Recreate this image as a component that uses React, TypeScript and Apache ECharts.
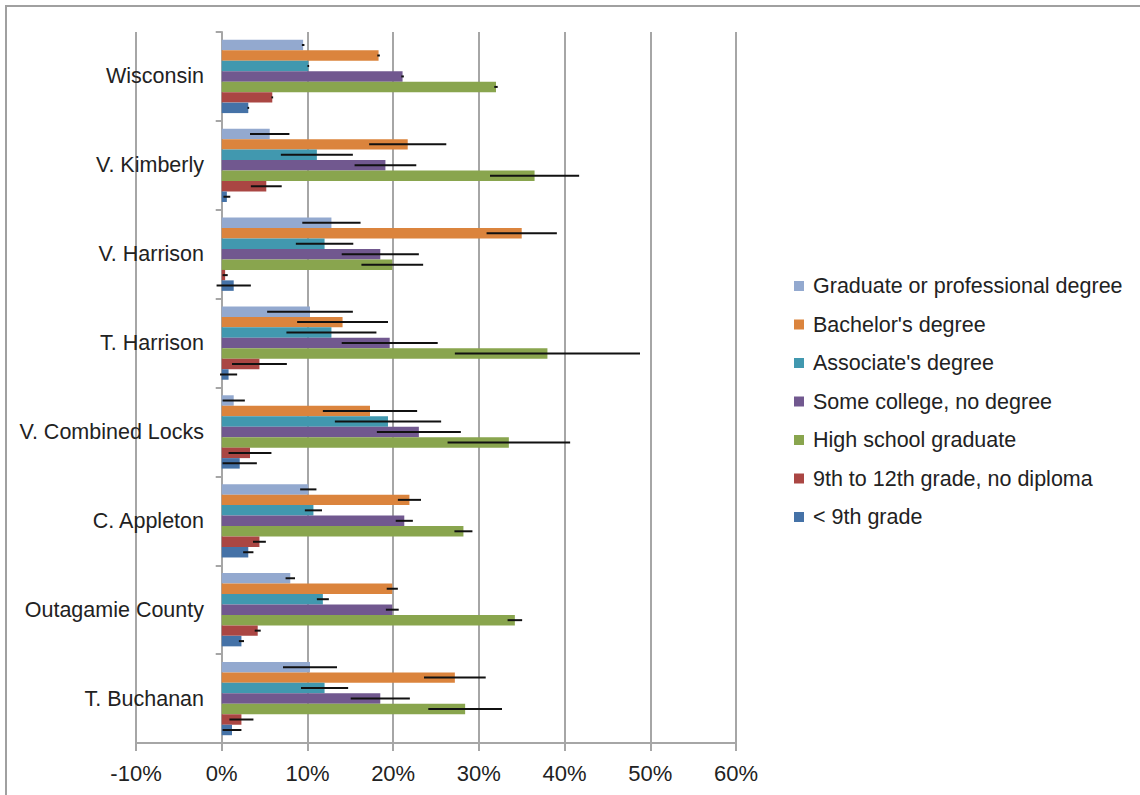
import React, { useEffect, useRef } from "react";
import * as echarts from "echarts";

const categories = [
  "T. Buchanan",
  "Outagamie County",
  "C. Appleton",
  "V. Combined Locks",
  "T. Harrison",
  "V. Harrison",
  "V. Kimberly",
  "Wisconsin",
];

const xTicks = { min: -10, max: 60, interval: 10 };

const graduate = [10.3, 8.0, 10.1, 1.4, 10.3, 12.8, 5.6, 9.5];
const graduateMoe = [3.15, 0.55, 0.95, 1.3, 5.0, 3.4, 2.3, 0.15];
const bachelor = [27.2, 19.9, 21.9, 17.3, 14.1, 35.0, 21.7, 18.3];
const bachelorMoe = [3.6, 0.65, 1.35, 5.5, 5.3, 4.1, 4.5, 0.15];
const associate = [12.0, 11.8, 10.7, 19.4, 12.8, 12.0, 11.1, 10.1];
const associateMoe = [2.75, 0.7, 1.0, 6.2, 5.25, 3.35, 4.2, 0.1];
const someCollege = [18.5, 19.9, 21.3, 23.0, 19.6, 18.5, 19.1, 21.1];
const someCollegeMoe = [3.45, 0.75, 1.0, 4.9, 5.6, 4.5, 3.6, 0.15];
const highSchool = [28.4, 34.2, 28.2, 33.5, 38.0, 19.9, 36.5, 32.0];
const highSchoolMoe = [4.3, 0.85, 1.05, 7.15, 10.8, 3.6, 5.2, 0.2];
const grade9to12 = [2.3, 4.2, 4.4, 3.3, 4.4, 0.4, 5.2, 5.9];
const grade9to12Moe = [1.4, 0.35, 0.75, 2.5, 3.2, 0.3, 1.8, 0.1];
const below9 = [1.2, 2.3, 3.1, 2.1, 0.8, 1.4, 0.6, 3.1];
const below9Moe = [1.1, 0.3, 0.6, 2.0, 1.0, 2.0, 0.4, 0.1];

const seriesNames = [
  "Graduate or professional degree",
  "Bachelor's degree",
  "Associate's degree",
  "Some college, no degree",
  "High school graduate",
  "9th to 12th grade, no diploma",
  "< 9th grade",
];
const seriesValues = [graduate, bachelor, associate, someCollege, highSchool, grade9to12, below9];
const seriesMoes = [graduateMoe, bachelorMoe, associateMoe, someCollegeMoe, highSchoolMoe, grade9to12Moe, below9Moe];
const seriesColors = ["#93A9CF", "#DB843D", "#4198AF", "#71588F", "#89A54E", "#AA4643", "#4572A7"];

const CATEGORY_GAP = 0.175;
const FONT = "'Liberation Sans', Arial, Helvetica, sans-serif";
const GRID_COLOR = "#A6A6A6";
const TEXT_COLOR = "#222222";

export default function App() {
  const ref = useRef<HTMLDivElement>(null);

  useEffect(() => {
    if (!ref.current) return;
    const chart = echarts.init(ref.current, undefined, { renderer: "svg" });
    const n = seriesNames.length;

    const errorData: number[][] = [];
    seriesValues.forEach((vals, k) => {
      vals.forEach((v, c) => {
        const m = seriesMoes[k][c];
        errorData.push([c, v - m, v + m, k]);
      });
    });

    const barSeries = seriesNames.map((name, k) => ({
      name,
      type: "bar",
      data: seriesValues[k],
      barGap: "0%",
      barCategoryGap: CATEGORY_GAP * 100 + "%",
      itemStyle: { color: seriesColors[k] },
      z: 2,
    }));

    const option: any = {
      animation: false,
      backgroundColor: "#ffffff",
      textStyle: { fontFamily: FONT },
      graphic: [
        {
          type: "rect",
          shape: { x: 6, y: 6, width: 1300, height: 1000 },
          style: { fill: "none", stroke: "#A0A0A0", lineWidth: 2 },
          silent: true,
        },
      ],
      grid: {
        left: 136,
        right: 404,
        top: 32,
        bottom: 52,
        containLabel: false,
        outerBoundsMode: "none",
      },
      legend: {
        data: seriesNames,
        orient: "vertical",
        left: 789,
        top: 270,
        itemWidth: 10,
        itemHeight: 10,
        itemGap: 16.5,
        icon: "rect",
        textStyle: {
          fontSize: 21.5,
          color: TEXT_COLOR,
          fontFamily: FONT,
          padding: [0, 0, 0, 4],
        },
      },
      xAxis: {
        type: "value",
        min: xTicks.min,
        max: xTicks.max,
        interval: xTicks.interval,
        axisLine: { show: true, lineStyle: { color: GRID_COLOR, width: 2 } },
        axisTick: { show: true, length: 8, lineStyle: { color: GRID_COLOR, width: 2 } },
        splitLine: { show: true, lineStyle: { color: GRID_COLOR, width: 2 } },
        axisLabel: {
          formatter: "{value}%",
          fontSize: 22,
          color: TEXT_COLOR,
          fontFamily: FONT,
          margin: 19,
        },
      },
      yAxis: {
        type: "category",
        data: categories,
        axisLine: { show: true, onZero: true, lineStyle: { color: GRID_COLOR, width: 2 } },
        axisTick: { show: true, length: 6, lineStyle: { color: GRID_COLOR, width: 2 } },
        axisLabel: { fontSize: 21.5, color: TEXT_COLOR, fontFamily: FONT, margin: -68 },
        splitLine: { show: false },
      },
      series: [
        ...barSeries,
        {
          name: "errors",
          type: "custom",
          z: 5,
          silent: true,
          encode: { x: [1, 2], y: 0 },
          data: errorData,
          renderItem: (params: any, api: any) => {
            const cat = api.value(0);
            const low = api.value(1);
            const high = api.value(2);
            const k = api.value(3);
            const band = api.size([0, 1])[1];
            const group = band * (1 - CATEGORY_GAP);
            const bw = group / n;
            const p1 = api.coord([low, cat]);
            const p2 = api.coord([high, cat]);
            const y = p1[1] - group / 2 + (k + 0.5) * bw;
            return {
              type: "line",
              shape: { x1: p1[0], y1: y, x2: p2[0], y2: y },
              style: { stroke: "#111111", lineWidth: 2 },
            };
          },
        },
      ],
    };

    chart.setOption(option);
    return () => chart.dispose();
  }, []);

  return (
    <div
      ref={ref}
      style={{ position: "absolute", left: 0, top: 0, width: 1140, height: 795, background: "#fff" }}
    />
  );
}
